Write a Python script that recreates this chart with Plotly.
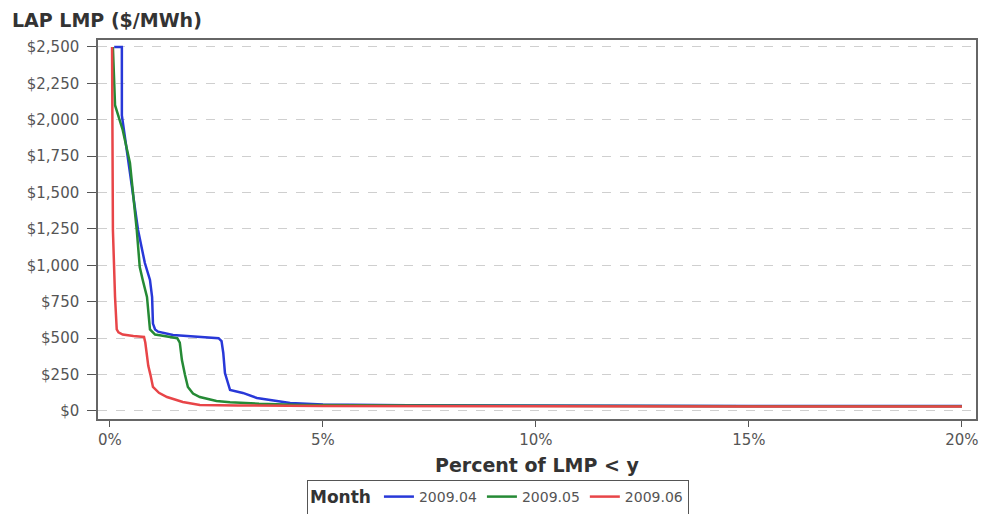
import plotly.graph_objects as go

# Month 2009.04
x04 = [0.10, 0.28, 0.28, 0.42, 0.55, 0.66, 0.82, 0.94, 0.99, 1.01, 1.06, 1.13, 1.48, 2.00, 2.55, 2.62, 2.66, 2.70, 2.82, 3.12, 3.45, 4.23, 5.0, 7.0, 10.0, 15.0, 20.0]
y04 = [2500, 2500, 2030, 1745, 1480, 1243, 1016, 900, 783, 600, 560, 545, 522, 510, 500, 480, 400, 261, 144, 124, 89, 55, 45, 40, 37, 35, 34]

# Month 2009.05
x05 = [0.07, 0.10, 0.12, 0.30, 0.47, 0.63, 0.70, 0.77, 0.87, 0.94, 1.06, 1.17, 1.58, 1.64, 1.69, 1.76, 1.83, 1.95, 2.11, 2.50, 2.82, 3.5, 4.5, 7.0, 10.0, 15.0, 20.0]
y05 = [2500, 2300, 2100, 1930, 1703, 1243, 989, 900, 783, 560, 525, 520, 500, 470, 350, 250, 165, 120, 96, 69, 60, 50, 42, 38, 35, 33, 32]

# Month 2009.06
x06 = [0.05, 0.06, 0.07, 0.12, 0.16, 0.20, 0.30, 0.55, 0.80, 0.83, 0.87, 0.90, 0.95, 1.01, 1.15, 1.34, 1.71, 2.11, 3.0, 5.0, 10.0, 15.0, 20.0]
y06 = [2500, 1800, 1243, 783, 560, 540, 525, 515, 508, 470, 370, 310, 250, 165, 125, 96, 62, 41, 38, 35, 33, 31, 30]

months = ["2009.04", "2009.05", "2009.06"]
colors = ["#2838d8", "#258a35", "#e84548"]

x_ticks = [0, 5, 10, 15, 20]
x_tick_labels = ["0%", "5%", "10%", "15%", "20%"]
y_ticks = [0, 250, 500, 750, 1000, 1250, 1500, 1750, 2000, 2250, 2500]
y_tick_labels = ["$0", "$250", "$500", "$750", "$1,000", "$1,250", "$1,500", "$1,750", "$2,000", "$2,250", "$2,500"]

W, H = 984, 514
ML, MR, MT, MB = 98, 8, 40, 95

fig = go.Figure()
for xs, ys, name, c in zip([x04, x05, x06], [y04, y05, y06], months, colors):
    fig.add_trace(go.Scatter(x=xs, y=ys, mode="lines", name=name,
                             line=dict(color=c, width=2.5)))

tick_font = dict(family="DejaVu Sans", size=15, color="#555555")

fig.update_layout(
    width=W, height=H,
    margin=dict(l=ML, r=MR, t=MT, b=MB, autoexpand=False),
    paper_bgcolor="white", plot_bgcolor="white",
    showlegend=True,
    legend=dict(
        orientation="h",
        xref="container", yref="container",
        x=498 / W, xanchor="center",
        y=1 - 480 / H, yanchor="top",
        bordercolor="#555555", borderwidth=1,
        bgcolor="white",
        font=dict(family="DejaVu Sans", size=14, color="#555555"),
        title=dict(text="<b>Month</b>", font=dict(family="DejaVu Sans", size=17, color="#333333")),
        itemwidth=30,
        tracegroupgap=0,
    ),
    xaxis=dict(
        range=[-0.28, 20.33],
        tickvals=x_ticks, ticktext=x_tick_labels,
        tickfont=tick_font,
        ticks="outside", ticklen=6, tickcolor="#555555",
        ticklabeloverflow="allow",
        showline=True, linecolor="#666666", linewidth=1.5, mirror=True,
        showgrid=False, zeroline=False,
    ),
    yaxis=dict(
        range=[-55, 2548],
        tickvals=y_ticks, ticktext=y_tick_labels,
        tickfont=tick_font,
        ticks="outside", ticklen=9, tickcolor="#555555",
        ticklabelstandoff=5,
        showline=True, linecolor="#666666", linewidth=1.5, mirror=True,
        showgrid=True, gridcolor="#cfcfcf", griddash="dash", gridwidth=1,
        zeroline=False,
    ),
    annotations=[
        dict(text="<b>LAP LMP ($/MWh)</b>", x=10 / W, y=1 - 20 / H,
             xref="paper", yref="paper",
             xanchor="left", yanchor="middle", showarrow=False,
             font=dict(family="DejaVu Sans", size=19, color="#333333")),
        dict(text="<b>Percent of LMP &lt; y</b>", x=537 / W, y=1 - 465 / H,
             xref="paper", yref="paper",
             xanchor="center", yanchor="middle", showarrow=False,
             font=dict(family="DejaVu Sans", size=19, color="#333333")),
    ],
)
# convert container-pixel positions of annotations to paper coords
pw = W - ML - MR
ph = H - MT - MB
fig.layout.annotations[0].x = (10 - ML) / pw
fig.layout.annotations[0].y = (H - MB - 20) / ph
fig.layout.annotations[1].x = (537 - ML) / pw
fig.layout.annotations[1].y = (H - MB - 465) / ph

fig.write_html("out.html", config={"displayModeBar": False},
               post_script="document.body.style.margin='0';document.body.style.overflow='hidden';")
